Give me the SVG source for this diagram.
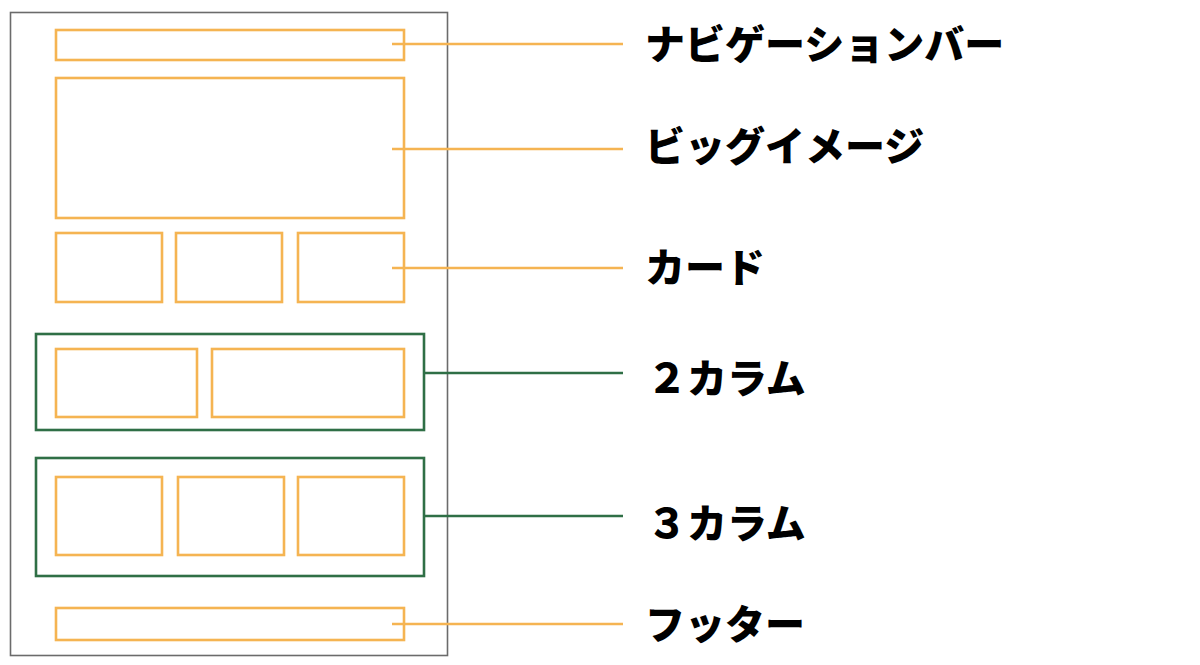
<svg xmlns="http://www.w3.org/2000/svg" width="1200" height="665" viewBox="0 0 1200 665">
<style>
.page{fill:#fff;stroke:#6b6b6b;stroke-width:1.6}
.box{fill:none;stroke:#F5B452;stroke-width:2.6}
.grp{fill:none;stroke:#2F6F46;stroke-width:2.6}
.lo{stroke:#F5B452;stroke-width:2.4}
.lg{stroke:#2F6F46;stroke-width:2.4}
.lbl{font-family:"Noto Sans CJK JP","Noto Sans",sans-serif;font-weight:900;font-size:40px;fill:#000}
</style>
<rect width="1200" height="665" fill="#fff"/>
<rect id="page" class="page" x="10.5" y="12.5" width="437" height="643"/>
<g id="navbar"><rect class="box" x="56" y="30" width="348" height="30"/></g>
<g id="bigimage"><rect class="box" x="56" y="78" width="348" height="140"/></g>
<g id="cards">
<rect class="box" x="56" y="233" width="106" height="69"/>
<rect class="box" x="176" y="233" width="106" height="69"/>
<rect class="box" x="298" y="233" width="106" height="69"/>
</g>
<g id="col2">
<rect class="grp" x="36" y="334" width="388" height="96"/>
<rect class="box" x="56" y="349" width="141" height="68"/>
<rect class="box" x="212" y="349" width="192" height="68"/>
</g>
<g id="col3">
<rect class="grp" x="36" y="458" width="388" height="118"/>
<rect class="box" x="56" y="477" width="106" height="78"/>
<rect class="box" x="178" y="477" width="106" height="78"/>
<rect class="box" x="298" y="477" width="106" height="78"/>
</g>
<g id="footer"><rect class="box" x="56" y="608" width="348" height="32"/></g>
<g id="connectors">
<line class="lo" x1="392" y1="44" x2="623" y2="44"/>
<line class="lo" x1="392" y1="149" x2="623" y2="149"/>
<line class="lo" x1="392" y1="268" x2="623" y2="268"/>
<line class="lg" x1="424" y1="373" x2="623" y2="373"/>
<line class="lg" x1="424" y1="516" x2="623" y2="516"/>
<line class="lo" x1="392" y1="624" x2="623" y2="624"/>
</g>
<g id="labels">
<text class="lbl" x="645" y="59">ナビゲーションバー</text>
<text class="lbl" x="645" y="161">ビッグイメージ</text>
<text class="lbl" x="645" y="282">カード</text>
<text class="lbl" x="647" y="393">２カラム</text>
<text class="lbl" x="647" y="538">３カラム</text>
<text class="lbl" x="645" y="639">フッター</text>
</g>
</svg>
